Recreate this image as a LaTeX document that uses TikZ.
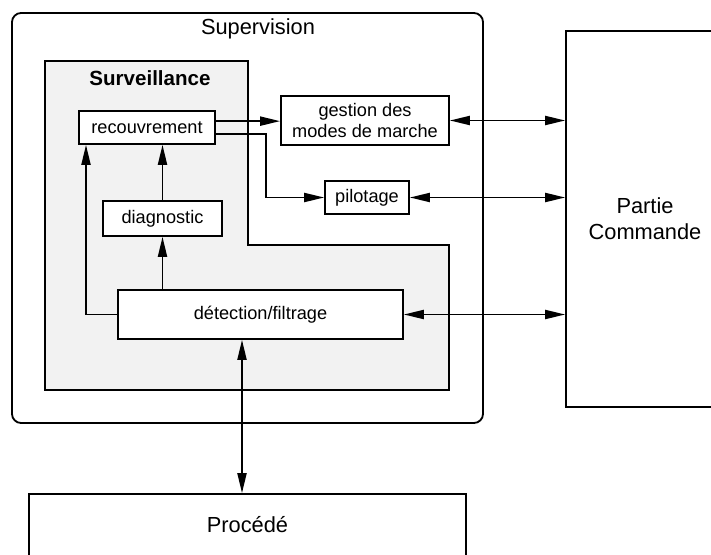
\documentclass[tikz,border=0pt]{standalone}
\usepackage{fontspec}
\setsansfont{Liberation Sans}
\usepackage{tikz}
\usetikzlibrary{arrows.meta, positioning, calc}
\definecolor{zonefill}{RGB}{242,242,242}
\tikzset{
    block/.style={
        rectangle,
        draw=black,
        line width=1pt,
        fill=white,
        align=center,
        inner sep=0pt,
        font=\fontsize{10}{12}\selectfont\sffamily
    },
    bigblock/.style={
        block,
        font=\fontsize{12}{14.5}\selectfont\sffamily
    },
    frame/.style={
        draw=black,
        line width=1pt
    },
    title/.style={
        font=\fontsize{12}{14.5}\selectfont\sffamily
    },
    zonetitle/.style={
        font=\fontsize{11.3}{13.5}\selectfont\sffamily\bfseries
    },
    connection/.style={
        draw=black,
        line width=1pt,
        -{Triangle[length=11pt,width=5pt]}
    },
    biconnection/.style={
        connection,
        {Triangle[length=11pt,width=5pt]}-{Triangle[length=11pt,width=5pt]}
    }
}
\begin{document}
\begin{tikzpicture}[x=0.55pt, y=-0.55pt]
\useasboundingbox (0,0) rectangle (711,555);

% Supervision frame
\draw[frame, rounded corners=5pt] (12,13) rectangle (483,423);
\node[title] (supervision) at (258,29) {Supervision};

% Surveillance zone
\draw[frame, fill=zonefill] (45,61) -- (248,61) -- (248,245) -- (449,245) -- (449,390) -- (45,390) -- cycle;
\node[zonetitle] (surveillance) at (150,78) {Surveillance};

% Inner blocks
\node[block, minimum width=74.8pt, minimum height=18.15pt] (recouv) at (147,127.5) {recouvrement};
\node[block, minimum width=65.45pt, minimum height=19.25pt] (diag) at (162.5,218.5) {diagnostic};
\node[block, minimum width=156.75pt, minimum height=26.95pt] (detect) at (260.5,314.5) {détection/filtrage};
\node[block, minimum width=92.4pt, minimum height=26.95pt] (gestion) at (365,120.5) {gestion des\\modes de marche};
\node[block, minimum width=46.2pt, minimum height=18.15pt] (pilot) at (367,197.5) {pilotage};

% Outside
\node[bigblock, minimum width=86.9pt, minimum height=206.8pt] (commande) at (645,219) {Partie\\Commande};
\node[bigblock, minimum width=240.35pt, minimum height=34.1pt] (procede) at (247.5,525) {Procédé};

% Connections
\coordinate (feed) at ($(recouv.south)+(-61,0)$);
\coordinate (io) at ($(detect.south)+(-18.5,0)$);
\draw[connection] ([yshift=3.5pt]recouv.east) -- ([yshift=3.5pt]recouv.east -| gestion.west);
\draw[connection] ([yshift=-3.5pt]recouv.east) -- ++(50,0) |- (pilot.west);
\draw[connection] (diag.north) -- (diag.north |- recouv.south);
\draw[connection] (diag.south |- detect.north) -- (diag.south);
\draw[connection] (detect.west) -| (feed);
\draw[biconnection] (gestion.east) -- (gestion.east -| commande.west);
\draw[biconnection] (pilot.east) -- (pilot.east -| commande.west);
\draw[biconnection] (detect.east) -- (detect.east -| commande.west);
\draw[biconnection] (io) -- (io |- procede.north);

\end{tikzpicture}
\end{document}
